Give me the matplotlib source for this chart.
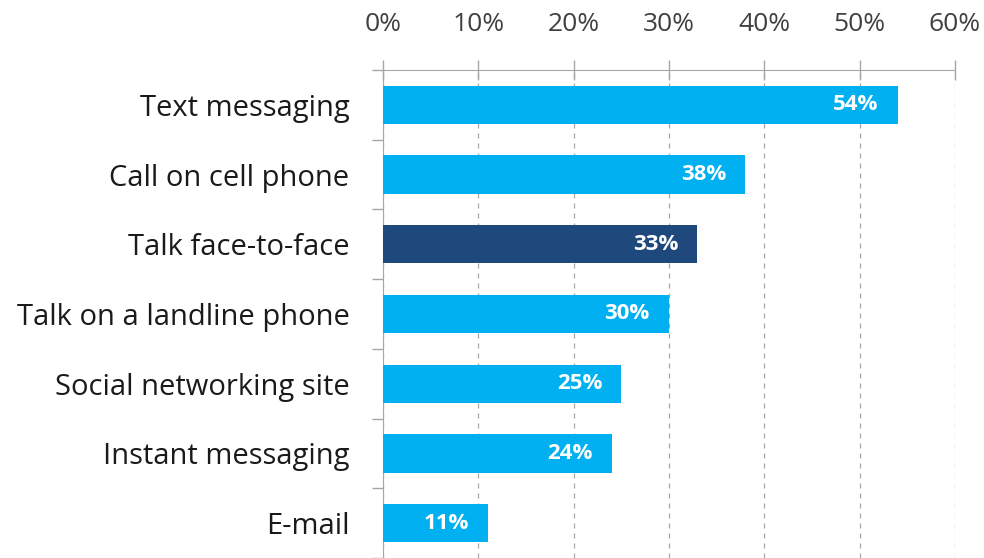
import matplotlib
matplotlib.use('Agg')
import matplotlib.pyplot as plt
from matplotlib.ticker import PercentFormatter

plt.rcParams['font.family'] = ['Open Sans', 'DejaVu Sans']

categories = ['Text messaging', 'Call on cell phone', 'Talk face-to-face',
              'Talk on a landline phone', 'Social networking site',
              'Instant messaging', 'E-mail']
values = [54, 38, 33, 30, 25, 24, 11]
highlight = 'Talk face-to-face'

light_blue = '#00B0F0'
dark_blue = '#1F497D'
grid_grey = '#A6A6A6'

fig = plt.figure(figsize=(9.84, 5.58), dpi=100)
ax = fig.add_axes([0.389, 0.0, 0.5815, 0.8746])

colors = [dark_blue if c == highlight else light_blue for c in categories]
ypos = list(range(len(categories)))
ax.barh(ypos, values, height=0.55, color=colors, zorder=3)

for y, v in zip(ypos, values):
    ax.text(v - 2.0, y, f'{v}%', ha='right', va='center', color='white',
            fontsize=16, fontweight='bold', zorder=4)

ax.set_xlim(0, 60)
ax.set_ylim(len(categories) - 0.5, -0.5)
ax.set_xticks(range(0, 61, 10))
ax.xaxis.set_major_formatter(PercentFormatter(decimals=0))
ax.xaxis.tick_top()
ax.tick_params(axis='x', direction='inout', length=14, width=1, color=grid_grey,
               labelsize=19, pad=17, labelcolor='#404040')

# category labels between boundary ticks
ax.set_yticks(ypos)
ax.set_yticklabels(categories)
ax.set_yticks([i - 0.5 for i in range(len(categories) + 1)], minor=True)
ax.tick_params(axis='y', which='major', length=0, labelsize=21, pad=24,
               labelcolor='#1a1a1a')
ax.tick_params(axis='y', which='minor', direction='out', length=8, width=1,
               color=grid_grey)

ax.grid(axis='x', linestyle=(0, (4, 4)), color=grid_grey, linewidth=0.9, zorder=0)

for side in ['right', 'bottom']:
    ax.spines[side].set_visible(False)
ax.spines['top'].set_color(grid_grey)
ax.spines['left'].set_color(grid_grey)

fig.savefig('out.png', dpi=100)
